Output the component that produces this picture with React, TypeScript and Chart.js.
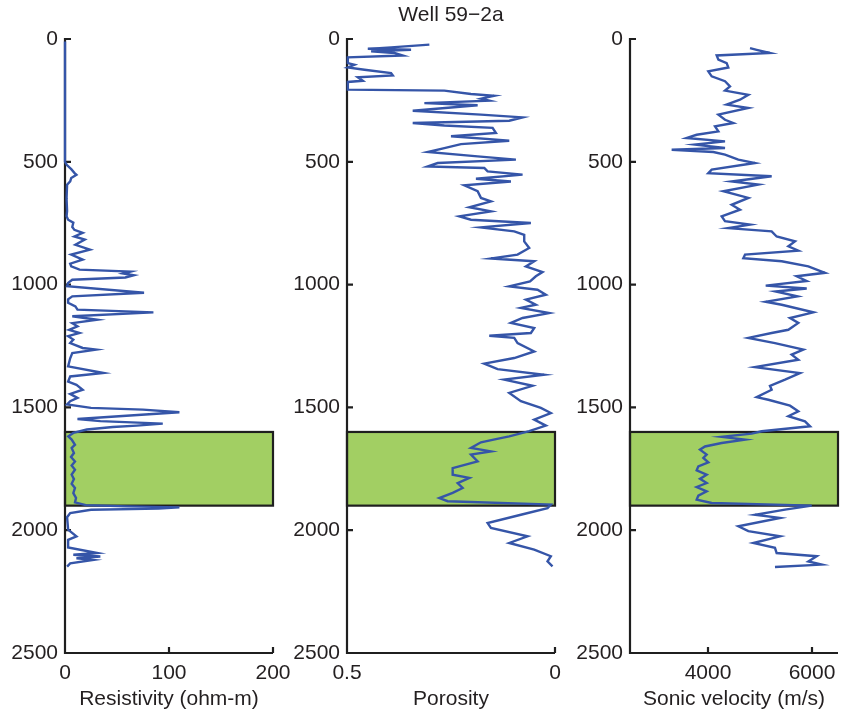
import React, { useEffect, useRef } from "react";
import { Chart, registerables } from "chart.js";

Chart.register(...registerables);

// ---------- data ----------
const TITLE = "Well 59\u22122a";
const DEPTH_MIN = 0;
const DEPTH_MAX = 2500;
const DEPTH_TICKS = [0, 500, 1000, 1500, 2000, 2500];
const ZONE_TOP = 1600;
const ZONE_BASE = 1900;

const RES_DEPTH = [10, 500, 512, 530, 545, 553, 566, 580, 593, 650, 700, 722, 736, 748, 765, 777, 789, 804, 817, 838, 858, 878, 898, 915, 926, 939, 947, 955, 962, 971, 980, 993, 1006, 1033, 1048, 1060, 1074, 1089, 1102, 1113, 1129, 1143, 1157, 1170, 1184, 1197, 1210, 1224, 1238, 1258, 1265, 1279, 1300, 1333, 1360, 1374, 1395, 1408, 1428, 1445, 1461, 1475, 1488, 1502, 1509, 1520, 1534, 1547, 1556, 1566, 1574, 1580, 1590, 1604, 1618, 1631, 1652, 1665, 1686, 1702, 1720, 1737, 1754, 1774, 1792, 1811, 1828, 1849, 1869, 1887, 1898, 1903, 1907, 1912, 1917, 1930, 1947, 1998, 2025, 2039, 2070, 2093, 2100, 2107, 2114, 2121, 2135, 2148];
const RES_VALUE = [0, 0, 1.6, 6, 9, 11, 6, 5, 2, 1.5, 2, 1.5, 3, 8, 7, 9, 17, 9, 19, 10, 24, 6, 17, 5, 6, 14, 63, 56, 66, 58, 7, 3, 2, 76, 7, 3, 3, 10, 12, 85, 7, 31, 7, 12, 4, 14, 3, 8, 5, 17, 30, 7, 5, 3, 37, 5, 3, 11, 17, 5, 12, 5, 2, 25, 75, 110, 59, 12, 34, 94, 69, 46, 21, 8, 3.2, 6.4, 9.6, 6.4, 8.6, 5.8, 9.6, 6.4, 9.6, 6.4, 8.6, 6.4, 9.6, 8, 10.6, 9.6, 20, 59, 110, 90, 25, 5, 2, 3, 11, 3, 3, 31, 8, 34, 11, 27, 5, 2];

const POR_DEPTH = [23, 34, 40, 44, 50, 57, 67, 75, 98, 105, 116, 125, 139, 148, 156, 170, 175, 206, 210, 224, 231, 243, 251, 261, 270, 292, 308, 319, 333, 342, 352, 362, 383, 396, 414, 428, 444, 460, 478, 491, 505, 519, 525, 539, 552, 569, 580, 596, 620, 647, 661, 685, 702, 722, 736, 749, 767, 783, 797, 824, 851, 878, 894, 905, 926, 949, 966, 987, 1007, 1021, 1041, 1061, 1082, 1095, 1116, 1136, 1156, 1177, 1197, 1208, 1217, 1238, 1272, 1299, 1322, 1344, 1367, 1387, 1412, 1441, 1475, 1502, 1523, 1550, 1574, 1597, 1618, 1629, 1642, 1665, 1679, 1692, 1720, 1747, 1774, 1787, 1808, 1828, 1848, 1869, 1882, 1896, 1910, 1937, 1971, 1991, 2025, 2052, 2079, 2106, 2127, 2147];
const POR_VALUE = [0.302, 0.394, 0.45, 0.346, 0.442, 0.386, 0.366, 0.498, 0.498, 0.482, 0.498, 0.458, 0.394, 0.39, 0.474, 0.462, 0.498, 0.498, 0.266, 0.202, 0.146, 0.178, 0.158, 0.314, 0.186, 0.342, 0.178, 0.078, 0.11, 0.342, 0.266, 0.15, 0.142, 0.25, 0.11, 0.226, 0.266, 0.306, 0.186, 0.094, 0.282, 0.306, 0.17, 0.162, 0.078, 0.19, 0.106, 0.218, 0.186, 0.178, 0.154, 0.206, 0.154, 0.23, 0.202, 0.058, 0.178, 0.098, 0.074, 0.074, 0.062, 0.09, 0.154, 0.05, 0.07, 0.03, 0.046, 0.06, 0.11, 0.042, 0.022, 0.07, 0.046, 0.082, 0.014, 0.078, 0.106, 0.05, 0.058, 0.158, 0.098, 0.09, 0.05, 0.098, 0.17, 0.138, 0.026, 0.122, 0.054, 0.11, 0.082, 0.034, 0.01, 0.05, 0.022, 0.062, 0.11, 0.142, 0.178, 0.202, 0.154, 0.202, 0.186, 0.246, 0.246, 0.206, 0.234, 0.222, 0.246, 0.278, 0.258, 0.01, 0.018, 0.082, 0.162, 0.154, 0.066, 0.11, 0.05, 0.01, 0.018, 0.006];

const SON_DEPTH = [37, 44, 57, 67, 84, 98, 116, 132, 152, 172, 193, 210, 227, 247, 267, 281, 308, 329, 342, 356, 376, 390, 403, 417, 430, 444, 451, 460, 471, 491, 505, 532, 546, 559, 580, 593, 620, 647, 675, 695, 722, 742, 756, 770, 783, 804, 824, 844, 862, 878, 892, 905, 926, 952, 966, 985, 1004, 1016, 1028, 1048, 1070, 1082, 1113, 1136, 1156, 1184, 1197, 1217, 1238, 1265, 1285, 1306, 1336, 1360, 1387, 1412, 1428, 1458, 1469, 1493, 1516, 1536, 1557, 1577, 1597, 1607, 1620, 1631, 1645, 1659, 1672, 1692, 1706, 1724, 1740, 1756, 1774, 1791, 1808, 1824, 1842, 1859, 1876, 1889, 1900, 1916, 1937, 1950, 1984, 2004, 2025, 2052, 2072, 2093, 2106, 2127, 2140, 2150];
const SON_VALUE = [4808, 4936, 5192, 4167, 4199, 4359, 4391, 4006, 4071, 4327, 4423, 4327, 4776, 4615, 4359, 4776, 4199, 4327, 4487, 4135, 4199, 3782, 3590, 4327, 3750, 4327, 3301, 4103, 4327, 4583, 4904, 4071, 4006, 5224, 4455, 4968, 4295, 4776, 4455, 4615, 4263, 4327, 4808, 4391, 5224, 5320, 5673, 5545, 5737, 4712, 4680, 5417, 5929, 6250, 5705, 5897, 5110, 5898, 5300, 5720, 5110, 5417, 6026, 5577, 5737, 5545, 5224, 4776, 5288, 5833, 5609, 5737, 4904, 5769, 5481, 5192, 5224, 4936, 5160, 5577, 5737, 5545, 5865, 5962, 5032, 4840, 4263, 4712, 4263, 3942, 3846, 3974, 3910, 4006, 3814, 3782, 3974, 3846, 3974, 3782, 3974, 3814, 3782, 4071, 5994, 5481, 4904, 5385, 4583, 4776, 5385, 4872, 5288, 5320, 6090, 5930, 6186, 5288];

const RES_TICKS = [0, 100, 200];
const POR_TICKS = [0.5, 0];
const SON_TICKS = [4000, 6000];

// ---------- styling ----------
const FONT_FAMILY = "'Liberation Sans', Arial, Helvetica, sans-serif";
const TEXT_COLOR = "#231f20";
const AXIS_COLOR = "#1f1f1f";
const LINE_COLOR = "#3555a8";
const ZONE_COLOR = "#a2cf63";
const CANVAS_H = 715;
const Y_AXIS_W = 60;
const PLOT_W = 208;

type PanelProps = {
  left: number;
  padRight: number;
  xMin: number;
  xMax: number;
  reverse: boolean;
  xTicks: number[];
  xTitle: string;
  depth: number[];
  values: number[];
  showTitle?: boolean;
};

const decorPlugin = (xTicks: number[], showTitle: boolean) => ({
  id: "wellDecor",
  beforeDatasetsDraw(chart: any) {
    const { ctx, chartArea: a, scales } = chart;
    const x = scales.x;
    const y = scales.y;
    const yt = y.getPixelForValue(ZONE_TOP);
    const yb = y.getPixelForValue(ZONE_BASE);
    ctx.save();
    ctx.fillStyle = ZONE_COLOR;
    ctx.fillRect(a.left, yt, a.right - a.left, yb - yt);
    ctx.strokeStyle = AXIS_COLOR;
    ctx.lineWidth = 2.2;
    ctx.strokeRect(a.left, yt, a.right - a.left, yb - yt);
    ctx.beginPath();
    ctx.moveTo(a.left, a.top - 1);
    ctx.lineTo(a.left, a.bottom);
    ctx.lineTo(a.right, a.bottom);
    for (const v of DEPTH_TICKS) {
      const p = y.getPixelForValue(v);
      ctx.moveTo(a.left, p);
      ctx.lineTo(a.left + 6, p);
    }
    for (const v of xTicks) {
      const p = x.getPixelForValue(v);
      ctx.moveTo(p, a.bottom);
      ctx.lineTo(p, a.bottom - 6);
    }
    ctx.stroke();
    ctx.restore();
  },
  afterDraw(chart: any) {
    if (!showTitle) return;
    const { ctx, chartArea: a } = chart;
    ctx.save();
    ctx.font = `21px ${FONT_FAMILY}`;
    ctx.fillStyle = TEXT_COLOR;
    ctx.textAlign = "center";
    ctx.textBaseline = "middle";
    ctx.fillText(TITLE, (a.left + a.right) / 2, 15);
    ctx.restore();
  },
});

function Panel(props: PanelProps) {
  const ref = useRef<HTMLCanvasElement>(null);
  const width = Y_AXIS_W + PLOT_W + props.padRight;
  useEffect(() => {
    if (!ref.current) return;
    const font = { family: FONT_FAMILY, size: 21 };
    const chart = new Chart(ref.current, {
      type: "scatter",
      data: {
        datasets: [
          {
            data: props.depth.map((d, i) => ({ x: props.values[i], y: d })),
            showLine: true,
            borderColor: LINE_COLOR,
            borderWidth: 2.4,
            pointRadius: 0,
            tension: 0,
            clip: false as any,
          },
        ],
      },
      options: {
        animation: false,
        responsive: false,
        events: [],
        layout: { padding: { top: 39, left: 0, right: props.padRight, bottom: 0 } },
        plugins: { legend: { display: false }, tooltip: { enabled: false } },
        scales: {
          x: {
            type: "linear",
            min: props.xMin,
            max: props.xMax,
            reverse: props.reverse,
            grid: { display: false, drawTicks: false },
            border: { display: false },
            ticks: {
              font,
              color: TEXT_COLOR,
              padding: 8,
              maxRotation: 0,
              autoSkip: false,
              callback: (v: any) => String(v),
            },
            afterBuildTicks: (s: any) => {
              s.ticks = props.xTicks.map((v) => ({ value: v }));
            },
            afterFit: (s: any) => {
              s.height = 62;
            },
            title: {
              display: true,
              text: props.xTitle,
              font,
              color: TEXT_COLOR,
              padding: { top: 0, bottom: 3 },
            },
          },
          y: {
            type: "linear",
            min: DEPTH_MIN,
            max: DEPTH_MAX,
            reverse: true,
            grid: { display: false, drawTicks: false },
            border: { display: false },
            ticks: {
              font,
              color: TEXT_COLOR,
              padding: 7,
              autoSkip: false,
              callback: (v: any) => String(v),
            },
            afterBuildTicks: (s: any) => {
              s.ticks = DEPTH_TICKS.map((v) => ({ value: v }));
            },
            afterFit: (s: any) => {
              s.width = Y_AXIS_W;
            },
          },
        },
      },
      plugins: [decorPlugin(props.xTicks, !!props.showTitle)],
    } as any);
    return () => chart.destroy();
  }, []);
  return (
    <canvas
      ref={ref}
      width={width}
      height={CANVAS_H}
      style={{ position: "absolute", left: props.left, top: 0, width, height: CANVAS_H }}
    />
  );
}

export default function App() {
  return (
    <div
      style={{
        position: "absolute",
        left: 0,
        top: 0,
        width: 848,
        height: 715,
        overflow: "hidden",
        background: "#ffffff",
      }}
    >
      <Panel left={5} padRight={30} xMin={0} xMax={200} reverse={false} xTicks={RES_TICKS} xTitle="Resistivity (ohm-m)" depth={RES_DEPTH} values={RES_VALUE} />
      <Panel left={287} padRight={20} xMin={0} xMax={0.5} reverse={true} xTicks={POR_TICKS} xTitle="Porosity" depth={POR_DEPTH} values={POR_VALUE} showTitle />
      <Panel left={570} padRight={10} xMin={2500} xMax={6500} reverse={false} xTicks={SON_TICKS} xTitle="Sonic velocity (m/s)" depth={SON_DEPTH} values={SON_VALUE} />
    </div>
  );
}
